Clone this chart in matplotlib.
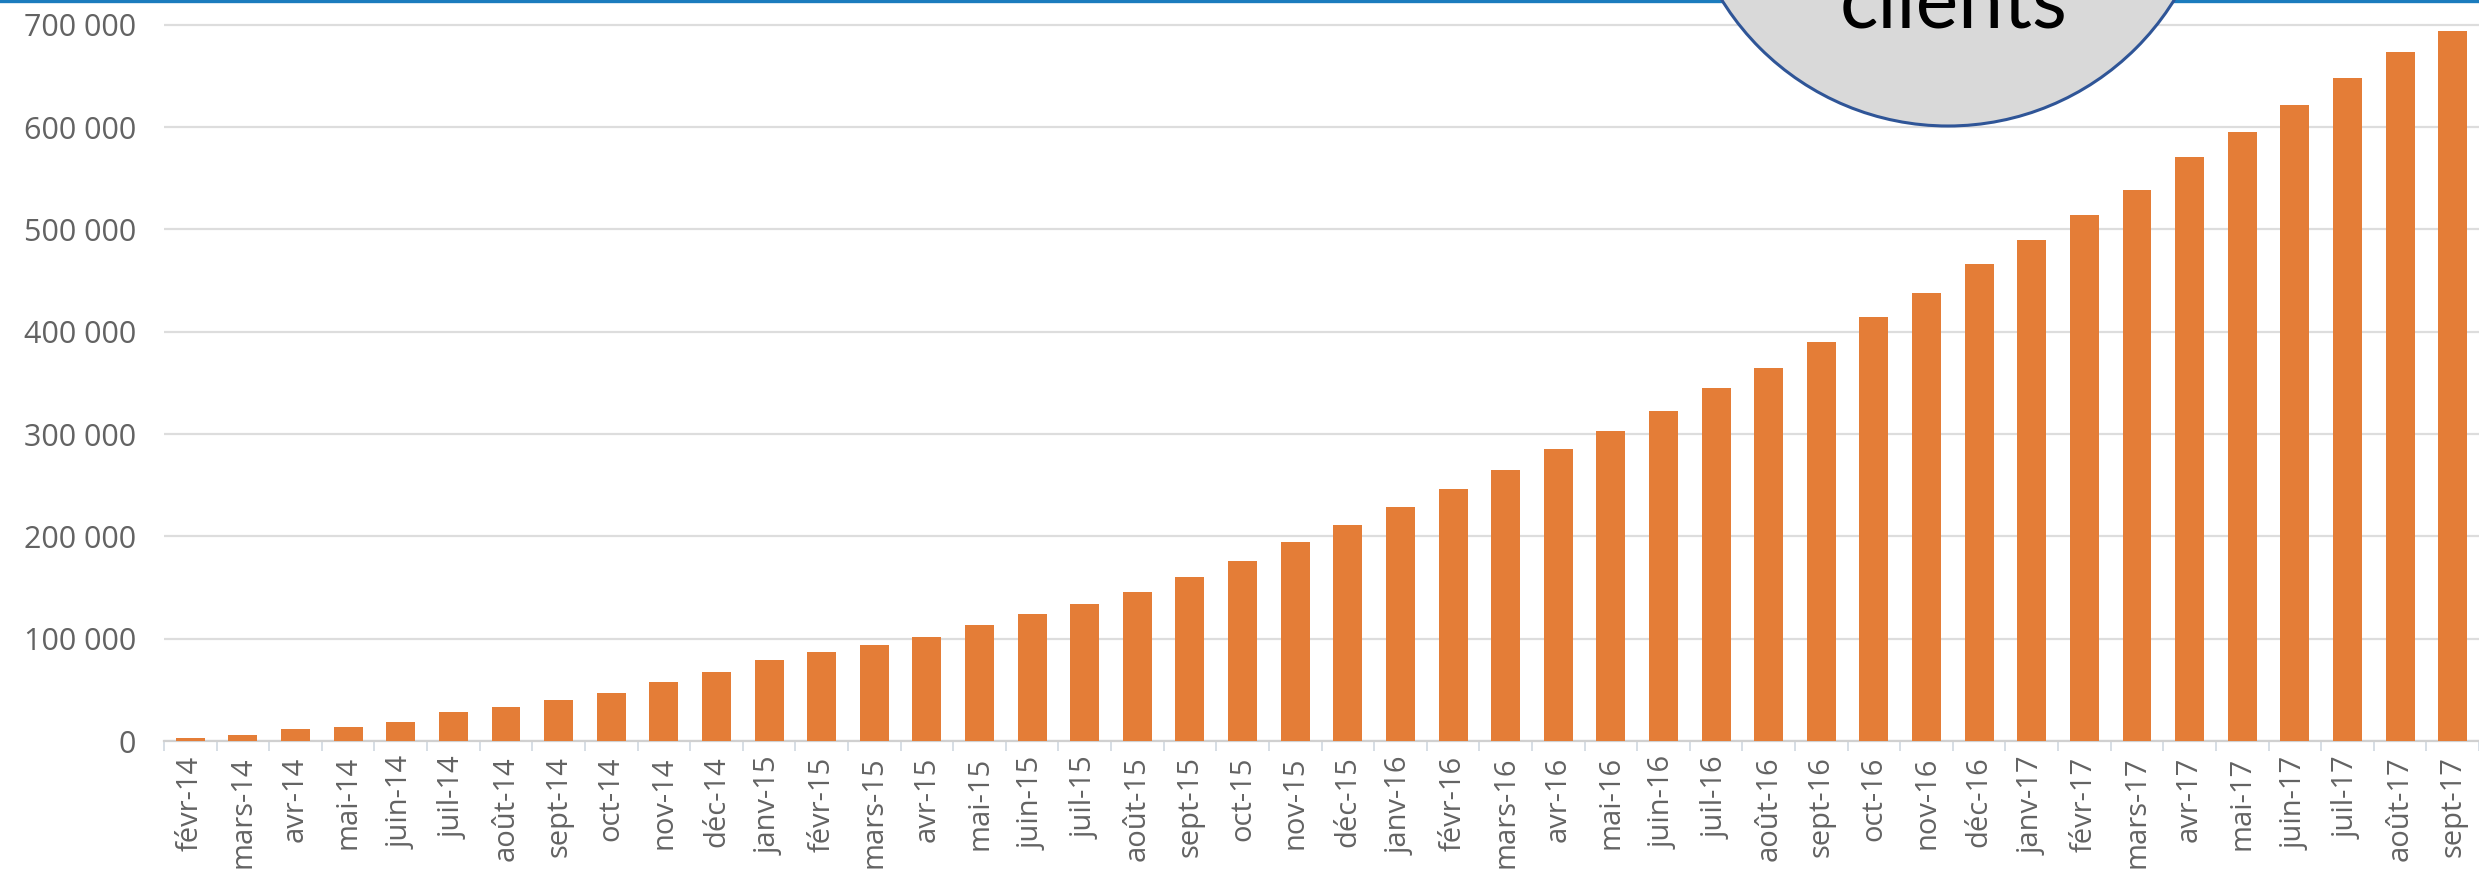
import matplotlib
matplotlib.use('Agg')
import matplotlib.pyplot as plt
from matplotlib.patches import Ellipse
from matplotlib.lines import Line2D
from matplotlib.ticker import FuncFormatter
import numpy as np

# Monthly cumulative number of clients
months = ['févr-14', 'mars-14', 'avr-14', 'mai-14', 'juin-14', 'juil-14', 'août-14',
          'sept-14', 'oct-14', 'nov-14', 'déc-14',
          'janv-15', 'févr-15', 'mars-15', 'avr-15', 'mai-15', 'juin-15', 'juil-15',
          'août-15', 'sept-15', 'oct-15', 'nov-15', 'déc-15',
          'janv-16', 'févr-16', 'mars-16', 'avr-16', 'mai-16', 'juin-16', 'juil-16',
          'août-16', 'sept-16', 'oct-16', 'nov-16', 'déc-16',
          'janv-17', 'févr-17', 'mars-17', 'avr-17', 'mai-17', 'juin-17', 'juil-17',
          'août-17', 'sept-17']
clients = [3000, 6000, 12000, 14000, 19000, 28000, 33000, 40000, 47000, 58000, 67000,
           79000, 87000, 94000, 102000, 113000, 124000, 134000, 146000, 160000, 176000,
           195000, 211000, 229000, 246000, 265000, 285000, 303000, 323000, 345000,
           365000, 390000, 414000, 438000, 466000, 490000, 514000, 539000, 571000,
           595000, 622000, 648000, 673000, 694000]
y_ticks = [0, 100000, 200000, 300000, 400000, 500000, 600000, 700000]
badge_text = 'clients'

W, H = 2479, 880
fig = plt.figure(figsize=(W / 100, H / 100), dpi=100)
fig.patch.set_facecolor('white')

# plot area: left edge at x=164 px, baseline at y=741 px, top at image top
ax = fig.add_axes([164 / W, (H - 741) / H, 1 - 164 / W, 741 / H])
x = np.arange(len(months))
ax.bar(x, clients, width=0.55, color='#E47D37', zorder=3)

ax.set_xlim(-0.5, len(months) - 0.5)
ax.set_ylim(0, 724300)
ax.set_yticks(y_ticks)
ax.yaxis.set_major_formatter(FuncFormatter(lambda v, p: f'{int(v):,}'.replace(',', ' ')))
ax.grid(axis='y', color='#dddddd', linewidth=1.6, zorder=0)

ax.set_xticks(x)
ax.set_xticklabels(months, rotation=90)
ax.set_xticks(np.arange(len(months) + 1) - 0.5, minor=True)

for s in ['top', 'right', 'left']:
    ax.spines[s].set_visible(False)
ax.spines['bottom'].set_color('#d0d0d0')
ax.spines['bottom'].set_linewidth(1.6)

label_font = 'Open Sans'
ax.tick_params(axis='y', length=0, pad=20, labelsize=22, labelcolor='#636363')
ax.tick_params(axis='x', which='major', length=0, pad=11, labelsize=21, labelcolor='#636363')
ax.tick_params(axis='x', which='minor', length=7, width=1.2, color='#d0d8e0')
for lbl in ax.get_xticklabels() + ax.get_yticklabels():
    lbl.set_fontfamily(label_font)

# blue rule along the top of the slide
fig.add_artist(Line2D([0, 1], [1 - 1.5 / H, 1 - 1.5 / H], transform=fig.transFigure,
                      color='#1B7CBE', linewidth=2.4, zorder=5))

# grey badge cut by the top edge
cx, cy, r = 1948, -140, 266
badge = Ellipse((cx / W, 1 - cy / H), 2 * r / W, 2 * r / H, transform=fig.transFigure,
                facecolor='#D9D9D9', edgecolor='#2F5597', linewidth=2.2, zorder=10)
fig.add_artist(badge)
fig.text(1954 / W, 1 - 27 / H, badge_text, ha='center', va='baseline', fontsize=58,
         family='Lato', color='black', zorder=11)

fig.savefig('out.png', dpi=100, facecolor='white')
